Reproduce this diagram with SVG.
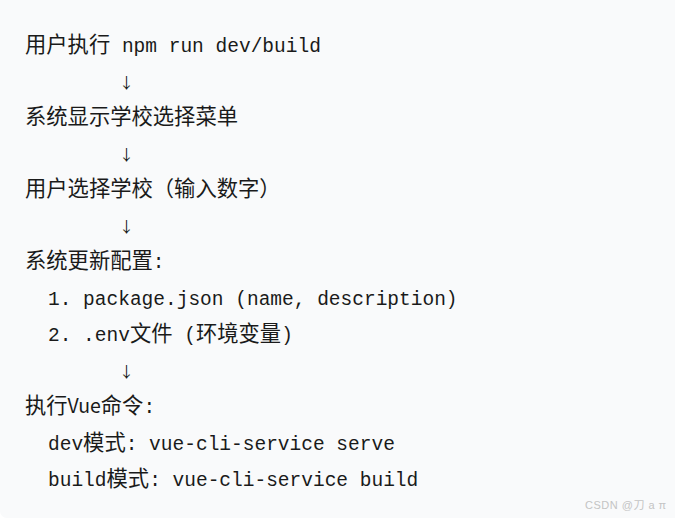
<svg xmlns="http://www.w3.org/2000/svg" width="675" height="519" viewBox="0 0 675 519">
<style>
text{fill:#1a1a1a;font-family:"Liberation Mono","DejaVu Sans Mono","Noto Sans CJK SC",monospace;font-size:19.5px;white-space:pre}
.c{font-family:"Noto Sans CJK SC","Noto Sans",sans-serif;font-size:21.3px}
.p{font-family:"Noto Sans CJK SC","Noto Sans",sans-serif;font-size:19.5px}
.arr{font-family:"Noto Sans CJK SC","DejaVu Sans",sans-serif;font-size:15px}
.wm{fill:#c4c4c4;font-family:"Liberation Sans","Noto Sans CJK SC",sans-serif;font-size:11px;letter-spacing:0.5px}
</style>
<rect x="0" y="0" width="675" height="519" fill="#ffffff"/>
<rect x="0" y="-10" width="685" height="528" rx="7" fill="#f9fafb"/>
<g id="n1"><text x="25" y="52"><tspan class="c">用户执行</tspan> npm run dev/build</text></g>
<g id="n2"><text x="25" y="124"><tspan class="c">系统显示学校选择菜单</tspan></text></g>
<g id="n3"><text x="25" y="196"><tspan class="c">用户选择学校（输入数字）</tspan></text></g>
<g id="n4">
<text x="25" y="268"><tspan class="c">系统更新配置</tspan>:</text>
<text x="48" y="305">1. package.json (name, description)</text>
<text x="48" y="341">2. .env<tspan class="c">文件</tspan> (<tspan class="c">环境变量</tspan>)</text>
</g>
<g id="n5">
<text x="25" y="413"><tspan class="c">执行</tspan><tspan class="p">Vue</tspan><tspan class="c">命令</tspan>:</text>
<text x="48" y="450">dev<tspan class="c">模式</tspan>: vue-cli-service serve</text>
<text x="48" y="486">build<tspan class="c">模式</tspan>: vue-cli-service build</text>
</g>
<g id="connectors">
<text class="arr" x="119" y="88">↓</text>
<text class="arr" x="119" y="160">↓</text>
<text class="arr" x="119" y="232">↓</text>
<text class="arr" x="119" y="377">↓</text>
</g>
<text class="wm" x="585" y="509">CSDN @刀 a π</text>
</svg>
